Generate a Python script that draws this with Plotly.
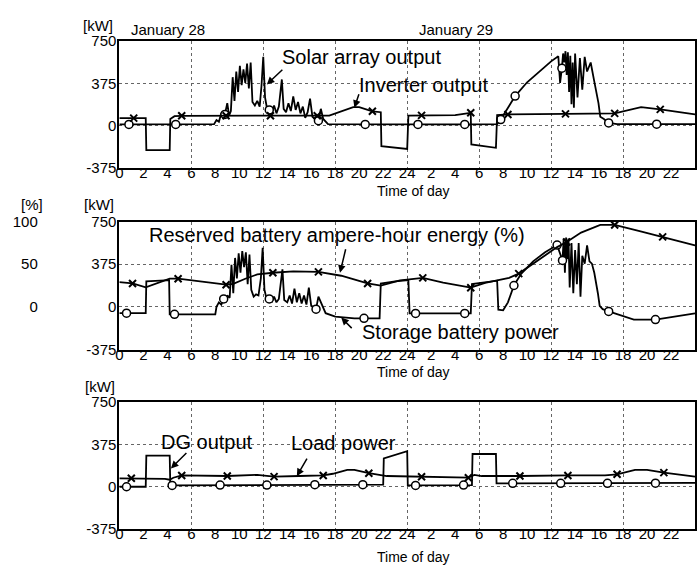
import plotly.graph_objects as go

# ---------------- data (hours from 0:00 Jan 28; kW or %) ----------------
SOLAR_H = [0, 0.8, 4.7, 7.9, 8.1, 8.3, 8.5, 8.65, 8.8, 9.0, 9.15, 9.3, 9.45, 9.6, 9.75, 9.9, 10.05, 10.2, 10.35, 10.5,
           10.65, 10.8, 10.95, 11.1, 11.3, 11.5, 11.7, 11.85, 12.0, 12.15, 12.3, 12.5, 12.7, 12.9, 13.1, 13.3, 13.55,
           13.7, 13.9, 14.1, 14.3, 14.5, 14.7, 14.9, 15.1, 15.3, 15.5, 15.7, 15.9, 16.1, 16.3, 16.6, 16.8, 17.0, 17.4,
           20.5, 24.9, 28.8, 31.5, 31.8, 32.3, 33.0, 34.0, 35.0, 36.0, 36.6, 36.75, 36.9, 37.0, 37.1, 37.2, 37.3, 37.4,
           37.5, 37.6, 37.7, 37.8, 37.9, 38.0, 38.2, 38.4, 38.6, 38.8, 39.0, 39.3, 39.55, 39.8, 39.95, 40.1, 40.4, 40.8,
           41.5, 44.8, 48]
SOLAR_KW = [12, 12, 12, 14, 50, 35, 110, 70, 100, 200, 90, 130, 430, 220, 480, 300, 530, 360, 500, 380,
            550, 330, 560, 210, 180, 220, 170, 350, 610, 250, 160, 140, 110, 180, 110, 170, 410,
            150, 120, 200, 130, 260, 140, 210, 110, 170, 70, 120, 240, 80, 60, 45, 150, 60, 15,
            12, 12, 12, 14, 55, 140, 263, 385, 480, 570, 615, 380, 510, 640, 560, 660, 450, 650,
            300, 620, 190, 560, 160, 640, 250, 600, 320, 610, 480, 560, 420, 300, 200, 80, 60, 25,
            14, 14, 14]
SOLAR_MARK_H = [0.8, 4.7, 8.8, 12.5, 16.6, 20.5, 24.9, 28.8, 31.8, 33.0, 36.9, 40.8, 44.8]

INV_H = [0, 1.2, 2.2, 2.25, 4.2, 4.25, 4.6, 5.2, 8.9, 12.6, 16.5, 17.5, 19.5, 20.0, 21.1, 21.8, 21.85, 24.0, 24.1,
         25.2, 28.0, 29.0, 29.3, 29.35, 31.4, 31.5, 32.4, 37.2, 39.5, 40.5, 41.3, 43.5, 45.1, 48]
INV_KW = [68, 68, 68, -215, -215, 60, 85, 88, 88, 88, 88, 90, 165, 165, 128, 120, -180, -205, 90,
          92, 95, 110, 115, -165, -195, 95, 100, 105, 105, 105, 110, 165, 145, 100]
INV_MARK_H = [1.2, 5.2, 8.9, 12.6, 16.5, 21.1, 25.2, 29.3, 32.4, 37.2, 41.3, 45.1]

SOC_H = [0, 1.1, 2.2, 3.0, 4.2, 4.9, 7.0, 8.9, 9.5, 10.5, 11.5, 12.8, 14.5, 16.6, 18.5, 20.7, 21.8, 22.5, 23.4,
         24.0, 25.3, 27.0, 29.3, 30.5, 31.6, 32.5, 33.3, 35.0, 36.5, 37.3, 38.5, 40.1, 41.3, 43.3, 45.3, 48]
SOC_PCT = [29, 27.5, 23, 27, 33, 33, 29.5, 26, 27, 33, 38, 40, 41.5, 41, 36.5, 27.5, 25, 28, 31,
           32, 34, 28.5, 22.5, 28, 31, 34, 39, 55, 70, 76, 87, 96, 96, 89, 82, 72]
SOC_MARK_H = [1.1, 4.9, 8.9, 12.8, 16.6, 20.7, 25.3, 29.3, 33.3, 37.3, 41.3, 45.3]

BATT_H = [0, 0.6, 2.2, 2.25, 4.15, 4.2, 4.6, 8.0, 8.1, 8.3, 8.5, 8.7, 8.9, 9.0, 9.2, 9.35, 9.5, 9.65, 9.8, 9.95,
          10.1, 10.25, 10.4, 10.55, 10.7, 10.85, 11.0, 11.2, 11.4, 11.6, 11.8, 11.95, 12.1, 12.3, 12.5, 12.7, 12.9,
          13.1, 13.3, 13.6, 13.75, 14.0, 14.2, 14.4, 14.6, 14.8, 15.0, 15.2, 15.4, 15.6, 15.8, 16.0, 16.2, 16.4,
          16.6, 16.9, 17.2, 18.0, 19.6, 20.4, 21.7, 21.8, 23.0, 24.1, 24.2, 24.7, 28.8, 29.3, 29.4, 31.5, 31.6,
          32.0, 32.4, 32.9, 33.5, 34.5, 35.5, 36.5, 36.95, 37.05, 37.15, 37.25, 37.35, 37.45, 37.55, 37.7, 37.85,
          38.0, 38.15, 38.3, 38.45, 38.6, 38.8, 39.0, 39.2, 39.4, 39.6, 39.8, 39.9, 40.05, 40.3, 40.8, 42.9, 44.7,
          48]
BATT_KW = [-55, -55, -55, 225, 235, -65, -65, -65, 0, 40, 20, 70, 40, 100, 80, 370, 120, 430, 250, 470,
           300, 490, 350, 480, 200, 460, 150, 90, 110, 100, 250, 520, 150, 60, 70, 40, 90,
           40, 70, 330, 60, 40, 100, 30, 160, 40, 120, 30, 100, 20, 170, 10, 0, -20,
           90, 20, -55, -85, -100, -100, -100, 205, 225, 235, -57, -57, -57, -57, 200, 230, -25,
           -30, 40, 188, 290, 400, 480, 543, 408, 600, 300, 610, 420, 600, 170, 560, 120,
           500, 200, 560, 90, 450, 380, 540, 400, 380, 300, 200, 120, 10, -20, -40, -111, -111,
           -57]
BATT_MARK_H = [0.6, 4.6, 8.7, 12.5, 16.4, 20.4, 24.7, 28.8, 32.9, 36.5, 36.95, 40.8, 44.7]

LOAD_H = [0, 1.0, 3.0, 3.8, 4.2, 4.5, 5.2, 9.0, 11.5, 12.9, 15.0, 17.0, 17.8, 19.0, 19.6, 20.8, 22.3, 25.2,
          29.1, 29.6, 30.2, 33.4, 36.0, 37.4, 40.5, 41.5, 43.0, 44.0, 45.4, 48]
LOAD_KW = [75, 75, 72, 70, 62, 80, 100, 95, 105, 90, 95, 100, 115, 150, 150, 120, 95, 88,
           80, 105, 95, 95, 100, 100, 100, 110, 150, 150, 125, 90]
LOAD_MARK_H = [1.0, 5.2, 9.0, 12.9, 17.0, 20.8, 25.2, 29.1, 33.4, 37.4, 41.5, 45.4]

DG_H = [0, 0.6, 2.2, 2.25, 4.2, 4.25, 4.4, 8.4, 12.3, 16.3, 20.3, 22.0, 22.05, 24.0, 24.05, 24.7, 28.7, 29.4,
        29.45, 31.4, 31.45, 32.8, 36.8, 40.7, 44.7, 48]
DG_KW = [0, 0, 0, 275, 275, 12, 12, 15, 15, 18, 18, 18, 250, 315, 12, 12, 15, 15,
         290, 290, 30, 30, 30, 30, 32, 35]
DG_MARK_H = [0.6, 4.4, 8.4, 12.3, 16.3, 20.3, 24.7, 28.7, 32.8, 36.8, 40.7, 44.7]

X_TICKS = list(range(0, 49, 2))
X_TICKTEXT = [str(v if v <= 24 else v - 24) for v in X_TICKS]
Y_TICKS = [-375, 0, 375, 750]
Y_TICKTEXT = ["-375", "0", "375", "750"]
PCT_TICKS = [0, 50, 100]

FONT = "Liberation Sans, Arial, sans-serif"
W, H = 700, 574

fig = go.Figure()


def add_series(hs, vs, marks, xa, ya, symbol):
    fig.add_trace(go.Scatter(x=hs, y=vs, mode="lines", xaxis=xa, yaxis=ya,
                             line=dict(color="black", width=1.8), hoverinfo="skip"))
    lut = dict(zip(hs, vs))
    if symbol == "x":
        mk = dict(symbol="x-thin", size=7, color="black", line=dict(color="black", width=2))
    else:
        mk = dict(symbol="circle", size=8, color="white", line=dict(color="black", width=1.5))
    fig.add_trace(go.Scatter(x=marks, y=[lut[t] for t in marks], mode="markers", xaxis=xa, yaxis=ya,
                             marker=mk, hoverinfo="skip"))


add_series(SOLAR_H, SOLAR_KW, SOLAR_MARK_H, "x", "y", "o")
add_series(INV_H, INV_KW, INV_MARK_H, "x", "y", "x")
add_series(BATT_H, BATT_KW, BATT_MARK_H, "x2", "y2", "o")
add_series(SOC_H, SOC_PCT, SOC_MARK_H, "x2", "y4", "x")
add_series(DG_H, DG_KW, DG_MARK_H, "x3", "y3", "o")
add_series(LOAD_H, LOAD_KW, LOAD_MARK_H, "x3", "y3", "x")


def py(p):
    return 1 - p / H


panels = [(33, 164), (219, 351), (405, 536)]
xdom = [116 / W, 695 / W]

axis_common = dict(showline=True, mirror=True, linecolor="black", linewidth=2, zeroline=False,
                   ticks="", tickfont=dict(family=FONT, size=15, color="black"), fixedrange=True)

layout = dict(width=W, height=H, margin=dict(l=0, r=0, t=0, b=0), paper_bgcolor="white",
              plot_bgcolor="white", showlegend=False, font=dict(family=FONT, color="black"))
for i, (top, bot) in enumerate(panels, start=1):
    sx = "" if i == 1 else str(i)
    layout["xaxis" + sx] = dict(axis_common, domain=xdom, anchor="y" + sx, range=[0, 48],
                                tickmode="array", tickvals=X_TICKS, ticktext=X_TICKTEXT, showgrid=False,
                                ticklabelstandoff=-10,
                                minor=dict(tickmode="linear", tick0=0, dtick=6, showgrid=True,
                                           griddash="dot", gridcolor="#666", gridwidth=1, ticks=""))
    layout["yaxis" + sx] = dict(axis_common, domain=[py(bot), py(top)], anchor="x" + sx,
                                range=[-375, 750], tickmode="array", tickvals=Y_TICKS,
                                ticktext=Y_TICKTEXT, showgrid=True, ticklabelstandoff=-2,
                                griddash="dot", gridcolor="#666", gridwidth=1)
layout["yaxis4"] = dict(overlaying="y2", anchor="free", position=34 / W, side="left", range=[-50, 100],
                        tickmode="array", tickvals=PCT_TICKS, showgrid=False, showline=False,
                        zeroline=False, ticks="", tickfont=dict(family=FONT, size=15, color="black"),
                        fixedrange=True)
fig.update_layout(**layout)


def text(s, x, y, size):
    fig.add_annotation(text=s, x=x / W, y=py(y), xref="paper", yref="paper", showarrow=False,
                       xanchor="center", yanchor="middle", font=dict(family=FONT, size=size, color="black"))


def arrow(xa, ya, x, y, ax, ay):
    fig.add_annotation(text="", x=x, y=y, xref=xa, yref=ya, ax=ax, ay=ay, showarrow=True,
                       arrowhead=2, arrowsize=1, arrowwidth=1.5, arrowcolor="black")


text("January 28", 165, 21, 15)
text("January 29", 455, 21, 15)
text("[kW]", 95, 17, 15)
text("[%]", 28, 201, 15)
text("[kW]", 96, 201, 15)
text("[kW]", 97, 389, 15)
text("Solar array output", 360, 49, 20)
text("Inverter output", 422, 78, 20)
text("Reserved battery ampere-hour energy (%)", 335, 233, 20)
text("Storage battery power", 459, 333, 20)
text("DG output", 204, 446, 20)
text("Load power", 341, 447, 20)
text("Time of day", 412, 188, 14)
text("Time of day", 412, 374, 14)
text("Time of day", 412, 565, 14)

arrow("x", "y", 12.3, 366, 17, -16)
arrow("x", "y", 19.6, 160, 5, -15)
arrow("x2", "y4", 18.4, 40, 6, -25)
arrow("x2", "y2", 18.5, -94, 12, 12)
arrow("x3", "y3", 4.3, 162, 17, -17)
arrow("x3", "y3", 14.8, 94, 11, -19)

fig.write_html("out.html", config={"displayModeBar": False},
               post_script="document.body.style.margin='0';")
